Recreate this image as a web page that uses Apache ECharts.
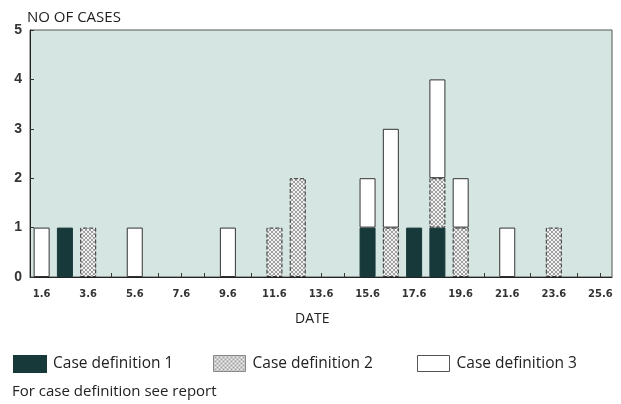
<!DOCTYPE html>
<html>
<head>
<meta charset="utf-8">
<script src="https://cdn.jsdelivr.net/npm/echarts@6/dist/echarts.min.js"></script>
<style>html,body{margin:0;padding:0;background:#fff;}#c{width:621px;height:404px;}</style>
</head>
<body>
<div id="c"></div>
<script>
var dates = ['1.6','2.6','3.6','4.6','5.6','6.6','7.6','8.6','9.6','10.6','11.6','12.6','13.6','14.6','15.6','16.6','17.6','18.6','19.6','20.6','21.6','22.6','23.6','24.6','25.6'];
var def1 = [0,1,0,0,0,0,0,0,0,0,0,0,0,0,1,0,1,1,0,0,0,0,0,0,0];
var def2 = [0,0,1,0,0,0,0,0,0,0,1,2,0,0,0,1,0,1,1,0,0,0,1,0,0];
var def3 = [1,0,0,0,1,0,0,0,1,0,0,0,0,0,1,2,0,2,1,0,1,0,0,0,0];
var seriesNames = ['Case definition 1','Case definition 2','Case definition 3'];

function hatch(){
  var c = document.createElement('canvas');
  c.width = 4; c.height = 4;
  var g = c.getContext('2d');
  g.fillStyle = '#f2f2f2'; g.fillRect(0,0,4,4);
  g.strokeStyle = '#8a8a8a'; g.lineWidth = 0.8;
  g.beginPath();
  g.moveTo(0,0); g.lineTo(4,4);
  g.moveTo(4,0); g.lineTo(0,4);
  g.stroke();
  return c;
}
var hatchPattern = {image: hatch(), repeat: 'repeat'};
function clean(a){ return a.map(function(v){ return v === 0 ? '-' : v; }); }

var chart = echarts.init(document.getElementById('c'), null, {renderer:'canvas'});
var styles = [
  {color:'#17393a', borderColor:'#17393a', borderWidth:1},
  {color: hatchPattern, borderColor:'#333', borderWidth:1, borderType:'dashed'},
  {color:'#ffffff', borderColor:'#333', borderWidth:1}
];
var legendIcon = [
  {color:'#17393a'},
  {color:hatchPattern, borderColor:'#888', borderWidth:1},
  {color:'#fff', borderColor:'#555', borderWidth:1}
];
var legendLeft = [13, 213, 417];
var txt = {fontFamily:'Open Sans', fontWeight:'normal', color:'#222'};
chart.setOption({
  animation:false,
  title:[
    {text:'NO OF CASES', left:27, top:10, padding:0, textStyle:Object.assign({fontSize:15}, txt)},
    {text:'DATE', left:295, top:312, padding:0, textStyle:Object.assign({fontSize:14}, txt)},
    {text:'For case definition see report', left:12, top:384, padding:0, textStyle:Object.assign({fontSize:15}, txt)}
  ],
  legend: seriesNames.map(function(n,i){
    return {data:[{name:n, itemStyle:legendIcon[i]}],
      left:legendLeft[i], top:355, padding:0, itemWidth:32, itemHeight:16, icon:'rect', selectedMode:false,
      textStyle:Object.assign({fontSize:15.5, padding:[0,0,0,2]}, txt)};
  }),
  grid:{left:30, right:9, top:30, bottom:127, show:true, backgroundColor:'#d5e5e2', borderColor:'#555', borderWidth:1},
  xAxis:{
    type:'category', data:dates, boundaryGap:true,
    axisLine:{lineStyle:{color:'#222', width:1}},
    axisTick:{show:true, inside:true, alignWithLabel:true, interval:0, length:4, lineStyle:{color:'#333'}},
    axisLabel:{interval:1, margin:12, fontFamily:'DejaVu Sans', fontWeight:'bold', fontSize:10, color:'#333'}
  },
  yAxis:{
    type:'value', min:0, max:5, interval:1,
    axisLine:{show:true, lineStyle:{color:'#222', width:1}},
    axisTick:{show:true, inside:true, length:4, lineStyle:{color:'#333'}},
    splitLine:{show:false},
    axisLabel:{margin:8, fontFamily:'Liberation Sans', fontWeight:'bold', fontSize:14, color:'#333'}
  },
  series:[def1, def2, def3].map(function(d,i){
    return {name:seriesNames[i], type:'bar', stack:'cases', data:clean(d), barWidth:16, itemStyle:styles[i]};
  })
});
</script>
</body>
</html>
